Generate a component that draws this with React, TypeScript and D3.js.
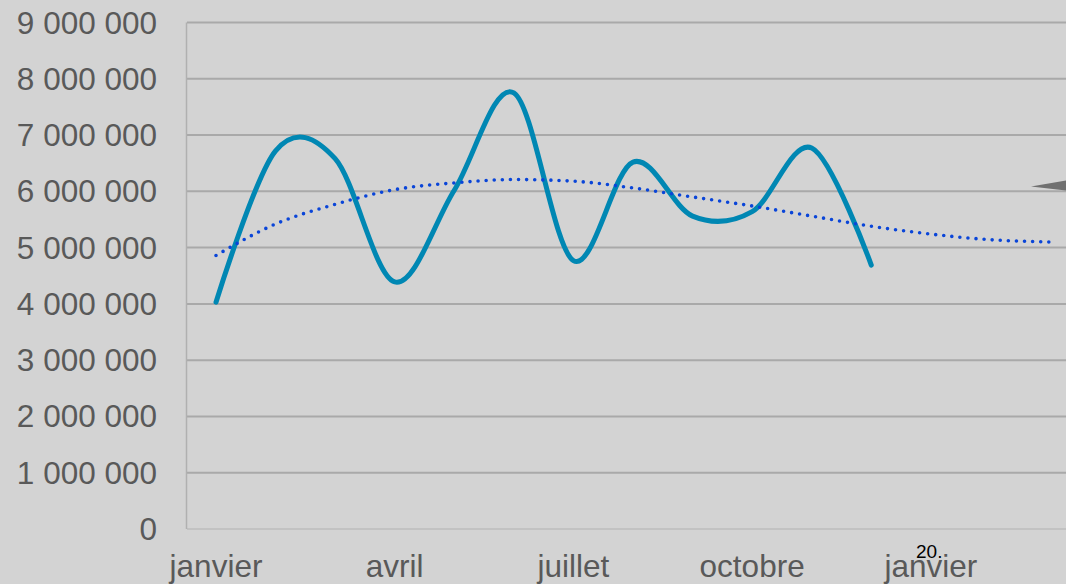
import React from "react";
import * as d3 from "d3";

const months = ["janvier","février","mars","avril","mai","juin","juillet","août","septembre","octobre","novembre","décembre"];
const values = [4030000, 6720000, 6580000, 4390000, 6020000, 7750000, 4770000, 6520000, 5560000, 5640000, 6770000, 4690000];
const trendValues = [4860000, 5420000, 5770000, 6030000, 6150000, 6210000, 6180000, 6060000, 5900000, 5740000, 5560000, 5380000, 5240000, 5140000, 5100000];
const xTickIndex = [0, 3, 6, 9, 12];
const xTickLabels = ["janvier", "avril", "juillet", "octobre", "janvier"];
const yTicks = [0, 1000000, 2000000, 3000000, 4000000, 5000000, 6000000, 7000000, 8000000, 9000000];

const W = 1066, H = 584;
const font = "'Liberation Sans', Arial, sans-serif";

export default function App() {
  const x = d3.scaleLinear().domain([0, 14]).range([216, 1050]);
  const y = d3.scaleLinear().domain([0, 9000000]).range([529, 22.5]);
  const fmt = (v: number) => d3.format(",")(v).replace(/,/g, " ");

  const line = d3.line<number>()
    .x((_, i) => x(i))
    .y((d) => y(d))
    .curve(d3.curveCardinal.tension(0));
  const trendLine = d3.line<number>()
    .x((_, i) => x(i))
    .y((d) => y(d))
    .curve(d3.curveMonotoneX);

  return (
    <svg width={W} height={H} style={{ position: "fixed", left: 0, top: 0, display: "block" }}>
      <rect x={0} y={0} width={W} height={H} fill="#d3d3d3" />
      {yTicks.map((t) => (
        <g key={t}>
          <line x1={187} x2={W} y1={y(t)} y2={y(t)} stroke={t === 0 ? "#bdbdbd" : "#a9a9a9"} strokeWidth={t === 0 ? 1.5 : 2} />
          <text x={157} y={y(t) + 11} textAnchor="end" fontFamily={font} fontSize={31.5} fill="#595959">{fmt(t)}</text>
        </g>
      ))}
      <line x1={186.5} x2={186.5} y1={y(9000000)} y2={y(0)} stroke="#b0b0b0" strokeWidth={1.5} />
      {xTickIndex.map((idx, k) => (
        <text key={k} x={x(idx)} y={577} textAnchor="middle" fontFamily={font} fontSize={31.5} fill="#595959">{xTickLabels[k]}</text>
      ))}
      <text x={916} y={558} fontFamily={font} fontSize={19} fill="#000">20.</text>
      <path d={line(values) || ""} fill="none" stroke="#0087b3" strokeWidth={5} strokeLinecap="round" strokeLinejoin="round" />
      <path d={trendLine(trendValues) || ""} fill="none" stroke="#0a45d8" strokeWidth={3.6} strokeLinecap="round" strokeDasharray="0 8.1" />
      <polygon points={`1031,186.5 ${W},180.5 ${W},190.5`} fill="#707070" />
    </svg>
  );
}
